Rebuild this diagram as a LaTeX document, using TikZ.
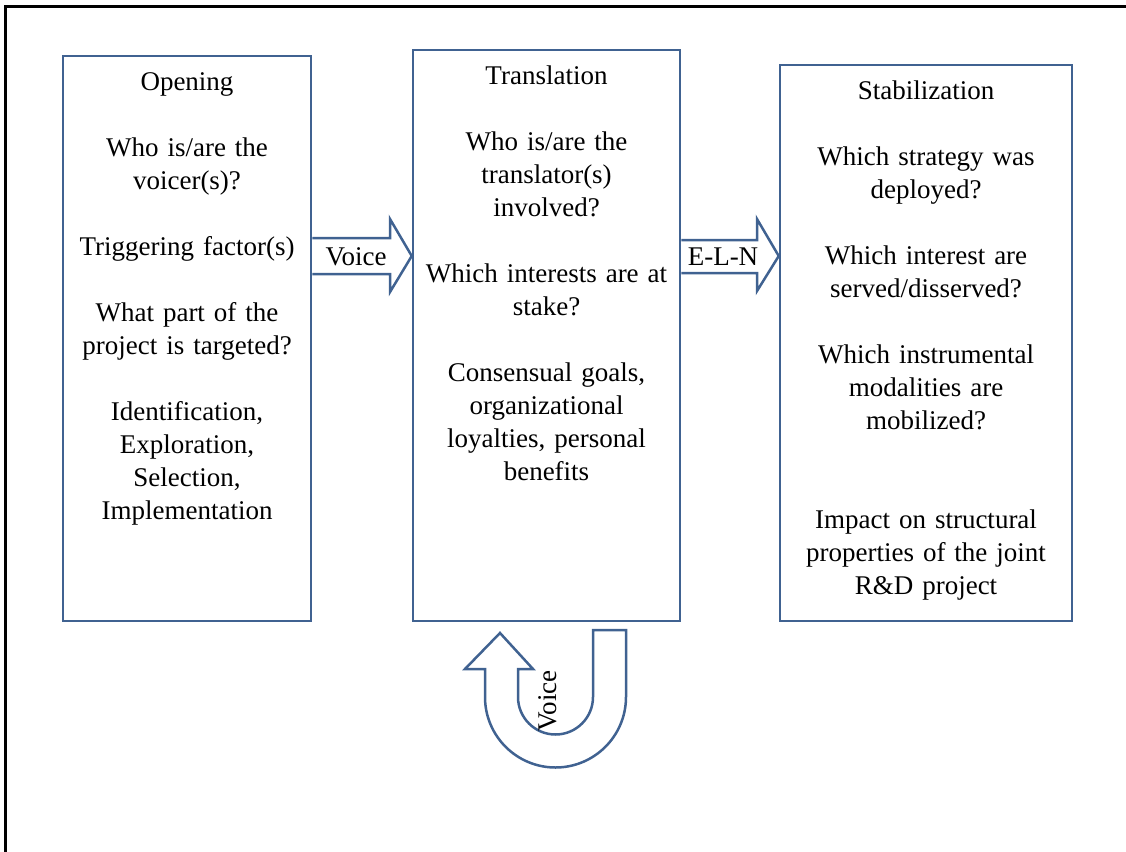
\documentclass[tikz,border=0pt]{standalone}
\usepackage{fontspec}
\setmainfont{Liberation Serif}
\definecolor{boxblue}{RGB}{64,98,145}

\begin{document}
\begin{tikzpicture}[x=0.5pt, y=-0.5pt,
	stage/.style={draw=boxblue, line width=1.25pt, rectangle},
	stagetext/.style={anchor=base, align=center, text width=#1, inner sep=0pt, font=\fontsize{13.5pt}{16.5pt}\selectfont},
	flow/.style={draw=boxblue, line width=1.25pt, line join=miter},
	lbl/.style={font=\fontsize{13.5pt}{16.5pt}\selectfont, inner sep=0pt}]
\useasboundingbox (0,0) rectangle (1126,852);
\draw[line width=1.5pt] (5,852) -- (5,6) -- (1126,6);
% the three stages
\node[stage, minimum width=124pt, minimum height=282.5pt] (open) at (187,338.5) {};
\node[stage, minimum width=133.5pt, minimum height=285.5pt] (transl) at (546.5,335.5) {};
\node[stage, minimum width=146pt, minimum height=278pt] (stab) at (926,343) {};
\node[stagetext=120pt] (openTxt) at ([yshift=-18pt]open.north) {Opening\\[16.5pt]
	Who is/are the\\ voicer(s)?\\[16.5pt]
	Triggering factor(s)\\[16.5pt]
	What part of the\\ project is targeted?\\[16.5pt]
	Identification,\\ Exploration,\\ Selection,\\ Implementation};
\node[stagetext=130pt] (translTxt) at ([yshift=-18pt]transl.north) {Translation\\[16.5pt]
	Who is/are the\\ translator(s)\\ involved?\\[16.5pt]
	Which interests are at\\ stake?\\[16.5pt]
	Consensual goals,\\ organizational\\ loyalties, personal\\ benefits};
\node[stagetext=142pt] (stabTxt) at ([yshift=-18pt]stab.north) {Stabilization\\[16.5pt]
	Which strategy was\\ deployed?\\[16.5pt]
	Which interest are\\ served/disserved?\\[16.5pt]
	Which instrumental\\ modalities are\\ mobilized?\\[33pt]
	Impact on structural\\ properties of the joint\\ R\&D project};
% block arrows
\draw[flow] (open.east |- 0,238) -- (390,238) -- (390,219) -- (transl.west |- 0,256)
	-- (390,292) -- (390,274) -- (open.east |- 0,274);
\node[lbl] (voiceA) at (356,257) {Voice};
\draw[flow] (transl.east |- 0,240) -- (757,240) -- (757,219) -- (stab.west |- 0,256)
	-- (757,291) -- (757,273) -- (transl.east |- 0,273);
\node[lbl] (eln) at (723,257) {E-L-N};
% loop back into translation
\draw[flow] (593,630) -- (626,630) -- (626,697) arc[start angle=0, end angle=180, radius=70.5]
	-- (485,669) -- (465,669) -- (500,633) -- (533,669) -- (518,669) -- (518,697)
	arc[start angle=180, end angle=0, radius=37.5] -- cycle;
\node[lbl, rotate=90] (voiceB) at (548,701) {Voice};
\end{tikzpicture}
\end{document}
